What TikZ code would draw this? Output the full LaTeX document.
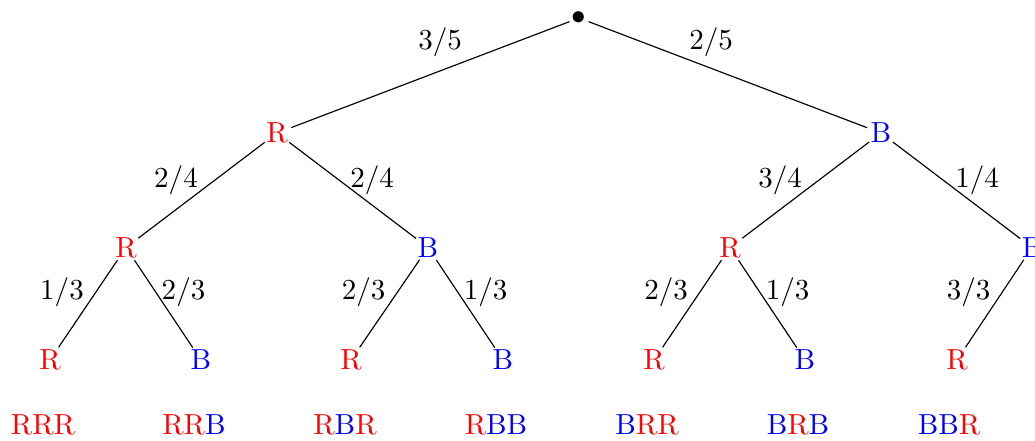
\documentclass[tikz,border=0pt]{standalone}
\begin{document}
\begin{tikzpicture}[x=0.012116cm, y=-0.012116cm,
  state/.style={circle, inner sep=0pt},
  rd/.style={state, text=red},
  bl/.style={state, text=blue},
  prob/.style={rectangle, inner sep=0pt},
  outcome/.style={rectangle, inner sep=0pt},
  branch/.style={draw, line width=0.4pt}]
\useasboundingbox (0,0) rectangle (1035,440);

% root and first draw
\node[state] (root) at (579,18) {$\bullet$};
\node[rd] (R) at (277,133) {R};
\node[bl] (B) at (881,133) {B};

% second draw
\node[rd] (RR) at (126,247.5) {R};
\node[bl] (RB) at (428,247.5) {B};
\node[rd] (BR) at (730,247.5) {R};
\node[bl] (BB) at (1032,247.5) {B};

% third draw
\node[rd] (RRR) at (50,360) {R};
\node[bl] (RRB) at (201,360) {B};
\node[rd] (RBR) at (351,360) {R};
\node[bl] (RBB) at (503,360) {B};
\node[rd] (BRR) at (654,360) {R};
\node[bl] (BRB) at (805,360) {B};
\node[rd] (BBR) at (957,360) {R};

% branches
\path[branch] (root) -- (R);
\path[branch] (root) -- (B);
\path[branch] (R) -- (RR);
\path[branch] (R) -- (RB);
\path[branch] (B) -- (BR);
\path[branch] (B) -- (BB);
\path[branch] (RR) -- (RRR);
\path[branch] (RR) -- (RRB);
\path[branch] (RB) -- (RBR);
\path[branch] (RB) -- (RBB);
\path[branch] (BR) -- (BRR);
\path[branch] (BR) -- (BRB);
\path[branch] (BB) -- (BBR);

% branch probabilities
\node[prob] (p1) at (440,42) {$3/5$};
\node[prob] (p2) at (711,42) {$2/5$};
\node[prob] (p3) at (176,180) {$2/4$};
\node[prob] (p4) at (372,180) {$2/4$};
\node[prob] (p5) at (780,180) {$3/4$};
\node[prob] (p6) at (977,180) {$1/4$};
\node[prob] (p7) at (62,292) {$1/3$};
\node[prob] (p8) at (183.5,292) {$2/3$};
\node[prob] (p9) at (363.5,292) {$2/3$};
\node[prob] (p10) at (485.5,292) {$1/3$};
\node[prob] (p11) at (666,292) {$2/3$};
\node[prob] (p12) at (787.5,292) {$1/3$};
\node[prob] (p13) at (968.5,292) {$3/3$};

% outcomes
\node[outcome] (o1) at (43,425) {\textcolor{red}{RRR}};
\node[outcome] (o2) at (194,425) {\textcolor{red}{RR}\textcolor{blue}{B}};
\node[outcome] (o3) at (345,425) {\textcolor{red}{R}\textcolor{blue}{B}\textcolor{red}{R}};
\node[outcome] (o4) at (496,425) {\textcolor{red}{R}\textcolor{blue}{BB}};
\node[outcome] (o5) at (647,425) {\textcolor{blue}{B}\textcolor{red}{RR}};
\node[outcome] (o6) at (798,425) {\textcolor{blue}{B}\textcolor{red}{R}\textcolor{blue}{B}};
\node[outcome] (o7) at (949,425) {\textcolor{blue}{BB}\textcolor{red}{R}};
\end{tikzpicture}
\end{document}
